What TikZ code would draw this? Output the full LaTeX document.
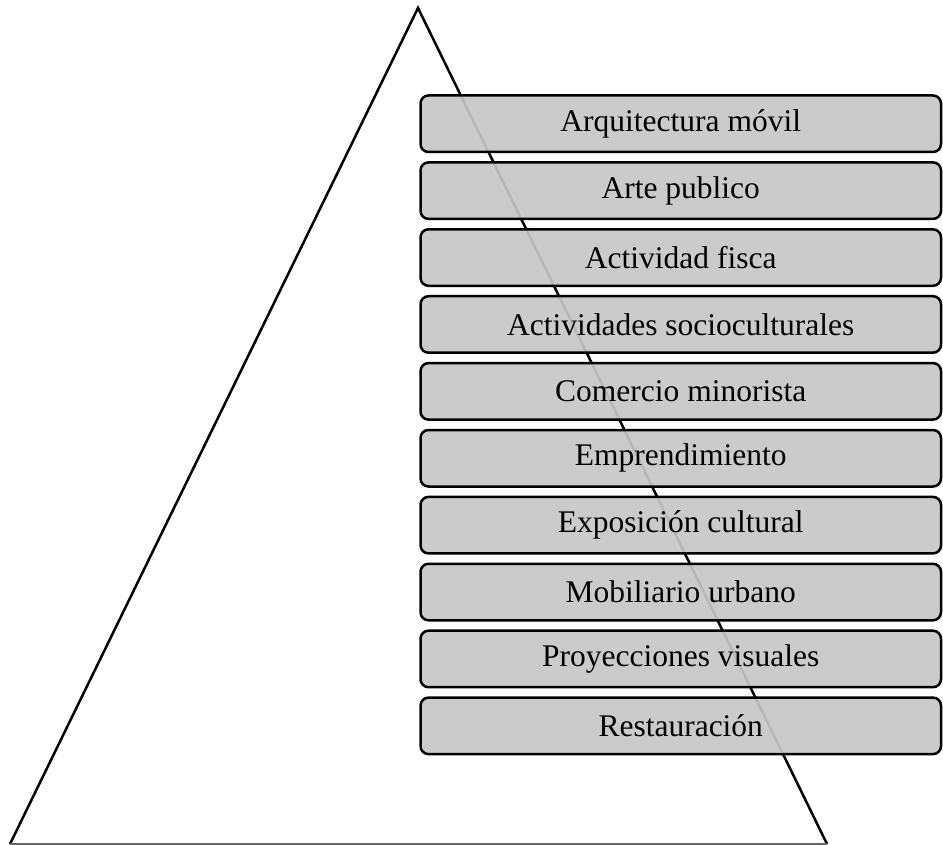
\documentclass[tikz,border=0pt]{standalone}
\usepackage{fontspec}
\setmainfont{Liberation Serif}
\usetikzlibrary{positioning}

\begin{document}
\begin{tikzpicture}[
        x=1pt, y=-1pt,
        node distance=7.9pt,
        item/.style={rectangle, rounded corners=8pt, draw=black, line width=2.5pt,
            fill=black!22, fill opacity=0.92, text opacity=1, align=center,
            minimum width=520.5pt, minimum height=56.5pt, inner sep=0pt,
            font=\fontsize{31.5}{37}\selectfont}
    ]
        \useasboundingbox (0,0) rectangle (943,845);
        % triangle behind the list
        \coordinate (top) at (418,8);
        \coordinate (bl) at (10,844);
        \coordinate (br) at (827,844);
        \draw[line width=2.5pt] (bl) -- (top) -- (br);
        \draw[line width=2.5pt, black!60] (bl) -- (br);

        \node[item, anchor=north west] (arq) at (419.25,94.25) {Arquitectura móvil};
        \node[item, below=of arq] (arte) {Arte publico};
        \node[item, below=of arte] (fis) {Actividad fisca};
        \node[item, below=of fis] (soc) {Actividades socioculturales};
        \node[item, below=of soc] (com) {Comercio minorista};
        \node[item, below=of com] (emp) {Emprendimiento};
        \node[item, below=of emp] (expo) {Exposición cultural};
        \node[item, below=of expo] (mob) {Mobiliario urbano};
        \node[item, below=of mob] (proy) {Proyecciones visuales};
        \node[item, below=of proy] (rest) {Restauración};
    \end{tikzpicture}
\end{document}
